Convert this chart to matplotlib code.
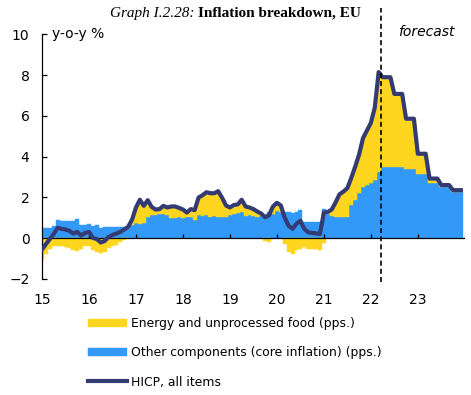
import numpy as np
import matplotlib
matplotlib.use("Agg")
import matplotlib.pyplot as plt

# monthly data, Jan 2015 - Dec 2023 (quarterly forecast from Apr 2022)
hicp = [
    -0.57, -0.3, -0.05, 0.2, 0.5, 0.45, 0.42, 0.35, 0.22, 0.3, 0.12, 0.25,
    0.3, 0.0, -0.05, -0.22, -0.15, 0.05, 0.15, 0.22, 0.3, 0.42, 0.55, 0.9,
    1.5, 1.88, 1.58, 1.86, 1.53, 1.4, 1.42, 1.58, 1.5, 1.55, 1.55, 1.48,
    1.4, 1.25, 1.42, 1.37, 1.99, 2.1, 2.25, 2.2, 2.2, 2.3, 1.98, 1.6,
    1.5, 1.62, 1.65, 1.88, 1.55, 1.5, 1.42, 1.3, 1.2, 1.02, 1.12, 1.55,
    1.73, 1.6, 1.0, 0.6, 0.45, 0.7, 0.85, 0.45, 0.28, 0.25, 0.23, 0.2,
    1.25, 1.28, 1.4, 1.75, 2.15, 2.28, 2.45, 2.95, 3.5, 4.1, 4.9, 5.28,
    5.65, 6.4, 8.15, 7.9, 7.9, 7.9, 7.08, 7.08, 7.08, 5.86, 5.86, 5.86,
    4.14, 4.14, 4.14, 2.92, 2.92, 2.92, 2.6, 2.6, 2.6, 2.35, 2.35, 2.35,
]
core = [
    0.5, 0.5, 0.5, 0.6, 0.9, 0.85, 0.85, 0.85, 0.82, 0.95, 0.65, 0.65,
    0.7, 0.6, 0.65, 0.5, 0.52, 0.55, 0.55, 0.55, 0.52, 0.52, 0.55, 0.65,
    0.72, 0.7, 0.72, 1.05, 1.15, 1.12, 1.18, 1.18, 1.15, 1.0, 1.0, 1.05,
    1.0, 1.02, 1.05, 0.88, 1.15, 1.08, 1.12, 1.05, 1.1, 1.05, 1.02, 1.05,
    1.15, 1.2, 1.25, 1.3, 1.1, 1.15, 1.1, 1.05, 1.1, 1.15, 1.3, 1.2,
    1.35, 1.3, 1.3, 1.3, 1.25, 1.3, 1.4, 0.8, 0.78, 0.8, 0.78, 0.78,
    1.45, 1.2, 1.08, 1.04, 1.04, 1.04, 1.05, 1.6, 1.86, 2.2, 2.5, 2.6,
    2.7, 2.85, 3.25, 3.49, 3.49, 3.49, 3.47, 3.47, 3.47, 3.41, 3.41, 3.41,
    3.16, 3.16, 3.16, 2.68, 2.68, 2.68, 2.52, 2.52, 2.52, 2.27, 2.27, 2.27,
]
energy = [
    -1.07, -0.8, -0.55, -0.4, -0.4, -0.4, -0.43, -0.5, -0.6, -0.65, -0.53, -0.4,
    -0.4, -0.6, -0.7, -0.72, -0.67, -0.5, -0.4, -0.33, -0.22, -0.1, 0.0, 0.25,
    0.78, 1.18, 0.86, 0.81, 0.38, 0.28, 0.24, 0.4, 0.35, 0.55, 0.55, 0.43,
    0.4, 0.23, 0.37, 0.49, 0.84, 1.02, 1.13, 1.15, 1.1, 1.25, 0.96, 0.55,
    0.35, 0.42, 0.4, 0.58, 0.45, 0.35, 0.32, 0.25, 0.1, -0.13, -0.18, 0.35,
    0.38, 0.3, -0.3, -0.7, -0.8, -0.6, -0.55, -0.45, -0.52, -0.55, -0.55, -0.58,
    -0.25, 0.08, 0.32, 0.71, 1.11, 1.24, 1.4, 1.35, 1.64, 1.9, 2.4, 2.68,
    2.95, 3.55, 4.9, 4.41, 4.41, 4.41, 3.61, 3.61, 3.61, 2.45, 2.45, 2.45,
    0.98, 0.98, 0.98, 0.24, 0.24, 0.24, 0.08, 0.08, 0.08, 0.08, 0.08, 0.08,
]
year_labels = ["15", "16", "17", "18", "19", "20", "21", "22", "23"]
n_actual = 87  # months of outturn data (to Mar 2022)

YELLOW = "#FFD61F"
BLUE = "#3399F8"
NAVY = "#343B72"

x = 2015 + np.arange(len(hicp)) / 12
core = np.array(core)
energy = np.array(energy)
e_bottom = np.where(energy > 0, core, 0)

fig = plt.figure(figsize=(4.71, 3.95), dpi=100)
ax = fig.add_axes([0.0892, 0.2861, 0.8976, 0.6937])

core_bars = ax.bar(x, core, width=1 / 12, color=BLUE, edgecolor=BLUE, linewidth=0.3,
                   zorder=2)
energy_bars = ax.bar(x, energy, width=1 / 12, bottom=e_bottom, color=YELLOW,
                     edgecolor=YELLOW, linewidth=0.3, zorder=2)
ax.axhline(0, color="black", lw=0.9, zorder=3)
years = np.arange(2016, 2025)
ax.vlines(years, 0, 0.2, color="black", lw=0.9, zorder=3)
hicp_line, = ax.plot(x, hicp, color=NAVY, lw=3, zorder=4)

fc_x = x[n_actual - 1] + 1 / 24
ax.axvline(fc_x, color="black", lw=1.2, dashes=(3.0, 1.9), zorder=5, clip_on=False)

ax.set_xlim(2015, 2024)
ax.set_ylim(-2.16, 11.3)
ax.set_yticks(range(-2, 11, 2))
ax.set_xticks(range(2015, 2024))
ax.set_xticklabels(year_labels)
ax.tick_params(axis="y", direction="in", length=3.3, width=0.9, pad=9, labelsize=10)
ax.tick_params(axis="x", length=0, pad=8, labelsize=10)
for s in ["top", "right", "bottom"]:
    ax.spines[s].set_visible(False)
ax.spines["left"].set_bounds(-2, 10)
ax.spines["left"].set_linewidth(0.9)

ax.text(2015.21, 10, "y-o-y %", fontsize=10, va="center", ha="left")
ax.text(2022.58, 10.1, "forecast", fontsize=10, style="italic", va="center", ha="left")

# title: italic label + bold text, centred together
ty = 1 - 13 / 395
t1 = fig.text(0, ty, "Graph I.2.28:", family="Liberation Serif", style="italic",
              fontsize=11, va="center", ha="left")
t2 = fig.text(0, ty, "Inflation breakdown, EU", family="Liberation Serif",
              weight="bold", fontsize=11, va="center", ha="left")
r = fig.canvas.get_renderer()
w1 = t1.get_window_extent(r).width
w2 = t2.get_window_extent(r).width
gap = 3.5
x0 = 235 - (w1 + gap + w2) / 2
t1.set_x(x0 / 471)
t2.set_x((x0 + w1 + gap) / 471)

fig.legend([energy_bars, core_bars, hicp_line],
           ["Energy and unprocessed food (pps.)",
            "Other components (core inflation) (pps.)",
            "HICP, all items"],
           loc="upper left", bbox_to_anchor=(0.187, 0.197), frameon=False,
           fontsize=8.9, borderpad=0, borderaxespad=0, handlelength=3.15,
           handletextpad=0.3, labelspacing=1.31)

fig.savefig("out.png", dpi=100)
